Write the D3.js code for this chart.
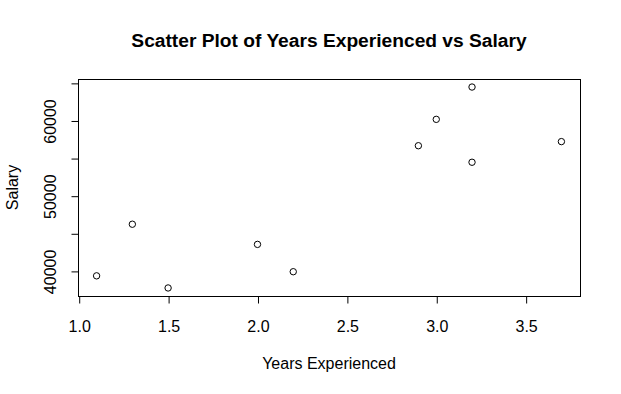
<!DOCTYPE html>
<html>
<head>
<meta charset="utf-8">
<script src="https://cdn.jsdelivr.net/npm/d3@7"></script>
<style>
  body { margin: 0; background: #fff; }
  text { font-family: "Liberation Sans", Arial, sans-serif; fill: #000; }
</style>
</head>
<body>
<div id="chart"></div>
<script>
var years = [1.1, 1.3, 1.5, 2.0, 2.2, 2.9, 3.0, 3.2, 3.2, 3.7];
var salary = [39343, 46205, 37731, 43525, 39891, 56642, 60150, 54445, 64445, 57189];
var xTicks = [1.0, 1.5, 2.0, 2.5, 3.0, 3.5];
var yTicks = [40000, 45000, 50000, 55000, 60000, 65000];
var yLabelled = [40000, 50000, 60000];

var opts = {
    width: 621,
    height: 394,
    box: { left: 78, right: 580, top: 79, bottom: 296 }
};

var points = years.map(function(v, i) {
    return { x: v, y: salary[i] };
});

// R style axis range: data extent widened by 4% on each side
function padded(ext) {
    var p = (ext[1] - ext[0]) * 0.04;
    return [ext[0] - p, ext[1] + p];
}

var x = d3.scaleLinear().domain(padded(d3.extent(years))).range([opts.box.left, opts.box.right]);
var y = d3.scaleLinear().domain(padded(d3.extent(salary))).range([opts.box.bottom, opts.box.top]);

var svg = d3.select('#chart').append('svg')
    .attr('width', opts.width)
    .attr('height', opts.height);

svg.append('rect')
    .attr('width', opts.width)
    .attr('height', opts.height)
    .style('fill', '#fff');

// x axis
var gx = svg.append('g')
    .attr('transform', 'translate(0.5,' + (opts.box.bottom + 0.5) + ')')
    .call(d3.axisBottom(x).tickValues(xTicks).tickSize(7).tickSizeOuter(0).tickFormat(d3.format('.1f')));
gx.select('.domain').remove();
gx.selectAll('line').attr('stroke', '#000');
gx.selectAll('text')
    .attr('y', 35)
    .attr('dy', null)
    .attr('font-size', 16)
    .attr('font-family', '"Liberation Sans", Arial, sans-serif');

// y axis
var gy = svg.append('g')
    .attr('transform', 'translate(' + (opts.box.left + 0.5) + ',0.5)')
    .call(d3.axisLeft(y).tickValues(yTicks).tickSize(7).tickSizeOuter(0).tickFormat(function(d) {
        return yLabelled.indexOf(d) >= 0 ? d : '';
    }));
gy.select('.domain').remove();
gy.selectAll('line').attr('stroke', '#000');
gy.selectAll('text')
    .attr('transform', 'rotate(-90)')
    .attr('x', 0)
    .attr('y', -23)
    .attr('dy', null)
    .attr('text-anchor', 'middle')
    .attr('font-size', 16)
    .attr('font-family', '"Liberation Sans", Arial, sans-serif');

// plot box
svg.append('rect')
    .attr('x', opts.box.left + 0.5)
    .attr('y', opts.box.top + 0.5)
    .attr('width', opts.box.right - opts.box.left)
    .attr('height', opts.box.bottom - opts.box.top)
    .style('fill', 'none')
    .style('stroke', '#000')
    .style('stroke-width', '1px');

// points
svg.append('g').selectAll('circle')
    .data(points)
    .enter().append('circle')
    .attr('cx', function(d) { return x(d.x); })
    .attr('cy', function(d) { return y(d.y); })
    .attr('r', 3.2)
    .style('fill', 'none')
    .style('stroke', '#000')
    .style('stroke-width', '1px');

var midX = (opts.box.left + opts.box.right) / 2;
var midY = (opts.box.top + opts.box.bottom) / 2;

svg.append('text')
    .attr('x', midX)
    .attr('y', 47)
    .attr('text-anchor', 'middle')
    .attr('font-size', 19.2)
    .attr('font-weight', 'bold')
    .text('Scatter Plot of Years Experienced vs Salary');

svg.append('text')
    .attr('x', midX)
    .attr('y', 369)
    .attr('text-anchor', 'middle')
    .attr('font-size', 16)
    .text('Years Experienced');

svg.append('text')
    .attr('transform', 'translate(18,' + midY + ') rotate(-90)')
    .attr('text-anchor', 'middle')
    .attr('font-size', 16)
    .text('Salary');
</script>
</body>
</html>
